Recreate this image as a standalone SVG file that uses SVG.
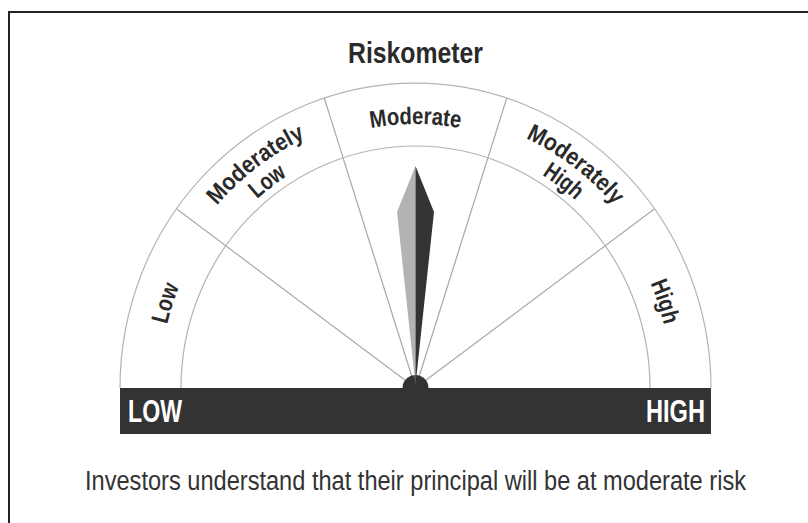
<svg xmlns="http://www.w3.org/2000/svg" width="808" height="523" viewBox="0 0 808 523">
<defs>
<style>
.frame{fill:none;stroke:#222;stroke-width:2}
.arc{fill:none;stroke:#b4b4b4;stroke-width:1.2}
.div{stroke:#a8a8a8;stroke-width:1.2}
.lbl{font-family:"Liberation Sans",Arial,sans-serif;font-weight:bold;font-size:24px;fill:#2a2a2a}
.big{font-family:"Liberation Sans",Arial,sans-serif;font-weight:bold}
.cap{font-family:"Liberation Sans",Arial,sans-serif;font-size:27px;fill:#333}
</style>
<path id="p1" d="M159.5 388 A256 264 0 0 1 671.5 388"/>
<path id="p2" d="M149.5 388 A266 274.5 0 0 1 681.5 388"/>
<path id="p3" d="M173.5 388 A242 250 0 0 1 657.5 388"/>
</defs>
<rect width="808" height="523" fill="#fff"/>
<path class="frame" d="M9 523 V12 H808"/>
<text class="big" x="348" y="63" font-size="29" fill="#2a2a2a" textLength="135" lengthAdjust="spacingAndGlyphs">Riskometer</text>
<g id="dial">
<path class="arc" d="M120 388 A295.5 305 0 0 1 711 388"/>
<path class="arc" d="M181 388 A234.5 242 0 0 1 650 388"/>
</g>
<g id="connectors">
<line class="div" x1="415.5" y1="388" x2="176.4" y2="208.7"/>
<line class="div" x1="415.5" y1="388" x2="324.2" y2="97.9"/>
<line class="div" x1="415.5" y1="388" x2="506.8" y2="97.9"/>
<line class="div" x1="415.5" y1="388" x2="654.6" y2="208.7"/>
</g>
<g id="seg-low"><text class="lbl"><textPath href="#p1" startOffset="10.3%" text-anchor="middle" textLength="40" lengthAdjust="spacingAndGlyphs">Low</textPath></text></g>
<g id="seg-modlow">
<text class="lbl"><textPath href="#p2" startOffset="30%" text-anchor="middle" textLength="112" lengthAdjust="spacingAndGlyphs">Moderately</textPath></text>
<text class="lbl"><textPath href="#p3" startOffset="30%" text-anchor="middle" textLength="38" lengthAdjust="spacingAndGlyphs">Low</textPath></text>
</g>
<g id="seg-moderate"><text class="lbl"><textPath href="#p1" startOffset="50%" text-anchor="middle" textLength="90" lengthAdjust="spacingAndGlyphs">Moderate</textPath></text></g>
<g id="seg-modhigh">
<text class="lbl"><textPath href="#p2" startOffset="70%" text-anchor="middle" textLength="112" lengthAdjust="spacingAndGlyphs">Moderately</textPath></text>
<text class="lbl"><textPath href="#p3" startOffset="70%" text-anchor="middle" textLength="42" lengthAdjust="spacingAndGlyphs">High</textPath></text>
</g>
<g id="seg-high"><text class="lbl"><textPath href="#p1" startOffset="89.5%" text-anchor="middle" textLength="44" lengthAdjust="spacingAndGlyphs">High</textPath></text></g>
<g id="scale-bar">
<rect x="120" y="388" width="591" height="46" fill="#333"/>
<text class="big" x="128" y="422" font-size="32" fill="#fff" textLength="54" lengthAdjust="spacingAndGlyphs">LOW</text>
<text class="big" x="646" y="422" font-size="32" fill="#fff" textLength="59" lengthAdjust="spacingAndGlyphs">HIGH</text>
</g>
<g id="needle">
<circle cx="415.5" cy="388" r="13" fill="#333"/>
<polygon points="415.5,166 397,212 415.5,385" fill="#b3b3b3"/>
<polygon points="415.5,166 434,212 415.5,385" fill="#333"/>
</g>
<text class="cap" x="85" y="490" textLength="661" lengthAdjust="spacingAndGlyphs">Investors understand that their principal will be at moderate risk</text>
</svg>
